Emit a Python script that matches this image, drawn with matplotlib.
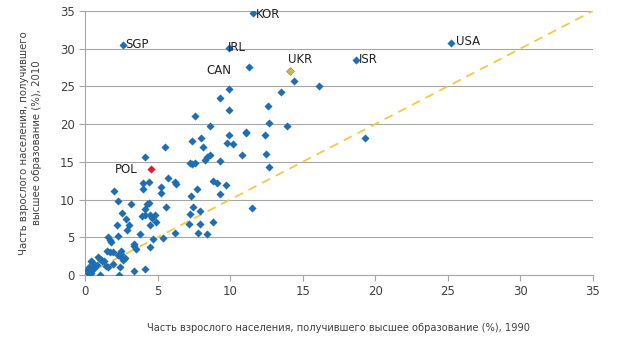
import numpy as np
import matplotlib.pyplot as plt

# Доля взрослого населения с высшим образованием: 1990 (x) и 2010 (y)
other_x = [14.4, 16.1, 13.5, 9.9, 9.3, 12.6, 9.9, 7.6, 12.7, 13.9, 8.6, 9.9, 11.1, 11.1,
           12.4, 19.3, 8.0, 7.4, 9.8, 10.2, 5.5, 8.1, 12.5, 10.8, 8.6, 8.4, 8.3, 4.1, 9.3,
           7.25, 7.4, 7.6, 12.7, 5.7, 4.0, 4.4, 6.2, 6.3, 8.8, 9.1, 9.7, 4.0, 5.25, 5.25,
           2.0, 9.3, 7.7, 7.3, 4.4, 4.3, 4.15, 2.3, 3.2, 5.55, 7.45, 11.5, 7.95, 2.55, 4.1,
           4.45, 4.8, 4.6, 3.9, 2.8, 7.2, 4.9, 8.8, 7.15, 4.5, 3.05, 2.2, 7.9, 2.9, 3.8,
           6.2, 7.8, 8.4, 2.3, 1.6, 5.4, 4.65, 1.7, 1.8, 3.35, 3.4, 4.5, 3.5, 2.5, 2.45,
           2.25, 1.5, 1.7, 1.9, 2.5, 2.75, 2.6, 1.0, 1.15, 0.4, 0.5, 1.3, 1.45, 1.6, 1.9,
           2.4, 0.3, 0.6, 0.8, 0.15, 0.45, 1.0, 0.4, 2.35, 3.35, 4.1, 0.9, 0.2, 0.6]
other_y = [25.7, 25.0, 24.2, 24.7, 23.5, 22.4, 21.9, 21.1, 20.1, 19.8, 19.8, 18.6, 18.9, 18.8,
           18.5, 18.2, 18.2, 17.7, 17.5, 17.4, 16.9, 16.9, 16.1, 15.9, 15.9, 15.6, 15.3, 15.6, 15.1,
           14.9, 14.7, 14.9, 14.3, 12.9, 12.2, 12.3, 12.3, 12.0, 12.4, 12.2, 11.9, 11.4, 11.7, 10.9,
           11.1, 10.8, 11.4, 10.5, 9.6, 9.4, 8.8, 9.8, 9.4, 9.0, 9.0, 8.9, 8.5, 8.2, 7.9,
           7.9, 7.9, 7.6, 7.8, 7.4, 8.1, 7.0, 7.0, 6.8, 6.6, 6.6, 6.6, 6.7, 5.9, 5.4,
           5.5, 5.6, 5.4, 5.2, 5.1, 4.9, 4.8, 4.6, 4.4, 4.1, 3.8, 3.7, 3.5, 3.2, 2.8,
           2.6, 3.2, 3.0, 3.1, 2.4, 2.2, 2.0, 2.1, 1.9, 1.8, 1.7, 1.8, 1.2, 1.1, 1.5,
           1.1, 1.1, 1.2, 1.3, 0.6, 0.6, 0.0, 0.2, 0.0, 0.5, 0.8, 2.4, 0.3, 0.9]

labeled_names = ['KOR', 'SGP', 'IRL', 'USA', 'ISR', 'CAN']
labeled_x = [11.6, 2.6, 9.9, 25.2, 18.7, 11.3]
labeled_y = [34.7, 30.5, 30.1, 30.8, 28.5, 27.6]

ukr = (14.15, 27.1)
pol = (4.55, 14.0)

ticks = [0, 5, 10, 15, 20, 25, 30, 35]

blue = '#1f6db2'
gray = '#404040'

fig = plt.figure(figsize=(6.3, 3.53), dpi=100)
ax = fig.add_axes([0.135, 0.221, 0.806, 0.748])

# линия равенства 1990 = 2010
ax.plot([0, 35], [0, 35], linestyle=(0, (5, 3.5)), color='#f2c94c', lw=1.3, zorder=2)

ax.scatter(other_x, other_y, marker='D', s=17, color=blue, linewidths=0, zorder=3)
ax.scatter(labeled_x, labeled_y, marker='D', s=17, color=blue, linewidths=0, zorder=3)
ax.scatter([ukr[0]], [ukr[1]], marker='D', s=17, color='#c3bd57', edgecolors='#8f8a35',
           linewidths=0.4, zorder=3)
ax.scatter([pol[0]], [pol[1]], marker='D', s=17, color='#d81e32', linewidths=0, zorder=3)

# подписи стран
offsets = {'KOR': (1.5, -1, 'left'), 'SGP': (1.5, 0, 'left'), 'IRL': (-0.5, 0, 'left'),
           'USA': (4, 0.5, 'left'), 'ISR': (1.5, 0, 'left'), 'CAN': (-12.5, -3, 'right')}
for name, x, y in zip(labeled_names, labeled_x, labeled_y):
    dx, dy, ha = offsets[name]
    ax.annotate(name, (x, y), xytext=(dx, dy), textcoords='offset points',
                ha=ha, va='center', fontsize=8.5, color='#222222')
ax.annotate('UKR', ukr, xytext=(-1.5, 8), textcoords='offset points',
            ha='left', va='center', fontsize=8.5, color='#222222')
ax.annotate('POL', pol, xytext=(-10, 0), textcoords='offset points',
            ha='right', va='center', fontsize=8.5, color='#222222')

ax.set_xlim(0, 35)
ax.set_ylim(0, 35)
ax.set_xticks(ticks)
ax.set_yticks(ticks)
ax.yaxis.grid(True, color='#a6a6a6', lw=0.8)
ax.set_axisbelow(True)
for side in ['top', 'right']:
    ax.spines[side].set_visible(False)
for side in ['left', 'bottom']:
    ax.spines[side].set_color('#a6a6a6')
ax.tick_params(colors='#a6a6a6', labelcolor=gray, labelsize=8.5, length=4, width=0.8)

ax.set_xlabel('Часть взрослого населения, получившего высшее образование (%), 1990',
              fontsize=7.1, color=gray, labelpad=18)
ax.set_ylabel('Часть взрослого населения, получившего\nвысшее образование (%), 2010',
              fontsize=7.3, color=gray, labelpad=13, linespacing=1.3)

fig.savefig('out.png', dpi=100)
